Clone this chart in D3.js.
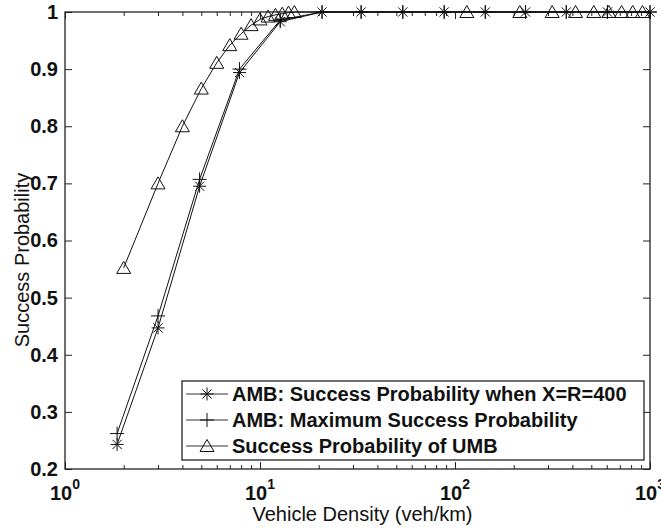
<!DOCTYPE html>
<meta charset="utf-8">
<style>
body { margin: 0; background: #fff; }
text { font-family: "Liberation Sans", Arial, sans-serif; fill: #111; }
.tick text { font-weight: bold; font-size: 20px; }
.axis path, .axis line { stroke: #222; }
</style>
<body>
<script src="https://d3js.org/d3.v7.min.js"></script>
<script>

// data
var xAmb = [1.85, 3, 4.9, 7.85, 12.7, 20.8, 33, 54, 88, 143, 230, 372, 605, 1000];
var yStar = [0.243, 0.447, 0.695, 0.894, 0.983, 1, 1, 1, 1, 1, 1, 1, 1, 1];
var yPlus = [0.262, 0.468, 0.707, 0.900, 0.986, 1, 1, 1, 1, 1, 1, 1, 1, 1];
var xUmb = [2, 3, 4, 5, 6, 7, 8, 9, 10, 11, 12, 13, 14, 15, 115, 215, 315, 415, 515, 615, 715, 815, 915];
var yUmb = [0.552, 0.70, 0.80, 0.866, 0.911, 0.942, 0.962, 0.977, 0.987, 0.992, 0.995, 0.997, 0.999, 1,
            1, 1, 1, 1, 1, 1, 1, 1, 1];
var yTicks = [0.2, 0.3, 0.4, 0.5, 0.6, 0.7, 0.8, 0.9, 1];
var xMajor = [1, 10, 100, 1000];
var xMinor = [2,3,4,5,6,7,8,9, 20,30,40,50,60,70,80,90, 200,300,400,500,600,700,800,900];
var legendLabels = ["AMB: Success Probability when X=R=400",
                    "AMB: Maximum Success Probability",
                    "Success Probability of UMB"];

var margin = {top: 12, right: 11, bottom: 60, left: 65},
    width = 661 - margin.left - margin.right,
    height = 529 - margin.top - margin.bottom;

var x = d3.scaleLog().domain([1, 1000]).range([0, width]);
var y = d3.scaleLinear().domain([0.2, 1]).range([height, 0]);

var svg = d3.select("body").append("svg")
    .attr("width", 661)
    .attr("height", 529)
  .append("g")
    .attr("transform", "translate(" + margin.left + "," + margin.top + ")");

// axes: ticks point inward on all four sides
function noLabels(g) { g.selectAll("text").remove(); g.select(".domain").remove(); }

svg.append("g").attr("class", "axis")
    .call(d3.axisLeft(y).tickValues(yTicks).tickSize(-7).tickPadding(7)
      .tickFormat(function(d) { return d === 1 ? "1" : d.toFixed(1); }))
    .call(function(g) { g.select(".domain").remove(); });
svg.append("g").attr("class", "axis")
    .attr("transform", "translate(" + width + ",0)")
    .call(d3.axisRight(y).tickValues(yTicks).tickSize(-7)).call(noLabels);

[[xMajor, 7], [xMinor, 4]].forEach(function(t) {
  svg.append("g").attr("class", "axis")
      .attr("transform", "translate(0," + height + ")")
      .call(d3.axisBottom(x).tickValues(t[0]).tickSize(-t[1])).call(noLabels);
  svg.append("g").attr("class", "axis")
      .call(d3.axisTop(x).tickValues(t[0]).tickSize(-t[1])).call(noLabels);
});

// x labels as 10^n
var xl = svg.append("g").selectAll("text").data(xMajor).enter().append("text")
    .attr("x", function(d) { return x(d); })
    .attr("y", height + 31)
    .attr("text-anchor", "middle")
    .style("font-weight", "bold").style("font-size", "20px");
xl.append("tspan").text("10");
xl.append("tspan").attr("dy", -11).style("font-size", "14px")
    .text(function(d) { return Math.round(Math.log10(d)); });

// box
svg.append("rect").attr("width", width).attr("height", height)
    .attr("fill", "none").attr("stroke", "#222").attr("stroke-width", 1.3);

// axis titles
svg.append("text")
    .attr("x", width / 2 + 5).attr("y", height + 52)
    .attr("text-anchor", "middle").style("font-size", "20px")
    .text("Vehicle Density (veh/km)");
svg.append("text")
    .attr("transform", "rotate(-90)")
    .attr("x", -248).attr("y", -36)
    .attr("text-anchor", "middle").style("font-size", "20px")
    .text("Success Probability");

// markers
var starPath = "M-6.5,0L6.5,0M0,-6.5L0,6.5M-4.6,-4.6L4.6,4.6M-4.6,4.6L4.6,-4.6";
var plusPath = "M-7,0L7,0M0,-7L0,7";
var triPath = "M0,-6.5L7,5.5L-7,5.5Z";

var series = [
  {xs: xAmb, ys: yStar, marker: starPath},
  {xs: xAmb, ys: yPlus, marker: plusPath},
  {xs: xUmb, ys: yUmb, marker: triPath}
];

var line = d3.line().x(function(d) { return x(d[0]); }).y(function(d) { return y(d[1]); });

series.forEach(function(s) {
  var pts = s.xs.map(function(v, i) { return [v, s.ys[i]]; });
  svg.append("path").datum(pts).attr("d", line)
      .attr("fill", "none").attr("stroke", "#111").attr("stroke-width", 1);
  svg.append("g").selectAll("path").data(pts).enter().append("path")
      .attr("transform", function(d) { return "translate(" + x(d[0]) + "," + y(d[1]) + ")"; })
      .attr("d", s.marker)
      .attr("fill", "none").attr("stroke", "#111").attr("stroke-width", 1);
});

// legend
var lg = svg.append("g").attr("transform", "translate(" + (182 - margin.left) + "," + (381 - margin.top) + ")");
lg.append("rect").attr("width", 462).attr("height", 79)
    .attr("fill", "#fff").attr("stroke", "#111").attr("stroke-width", 1.2);
legendLabels.forEach(function(lab, i) {
  var ry = 13 + i * 26;
  lg.append("line").attr("x1", 4).attr("x2", 46).attr("y1", ry).attr("y2", ry)
      .attr("stroke", "#333").attr("stroke-width", 1);
  lg.append("path").attr("transform", "translate(25," + ry + ")")
      .attr("d", series[i].marker)
      .attr("fill", "none").attr("stroke", "#111").attr("stroke-width", 1);
  lg.append("text").attr("x", 50).attr("y", ry).attr("dy", "0.36em")
      .style("font-weight", "bold").style("font-size", "20px")
      .text(lab);
});

</script>
</body>
